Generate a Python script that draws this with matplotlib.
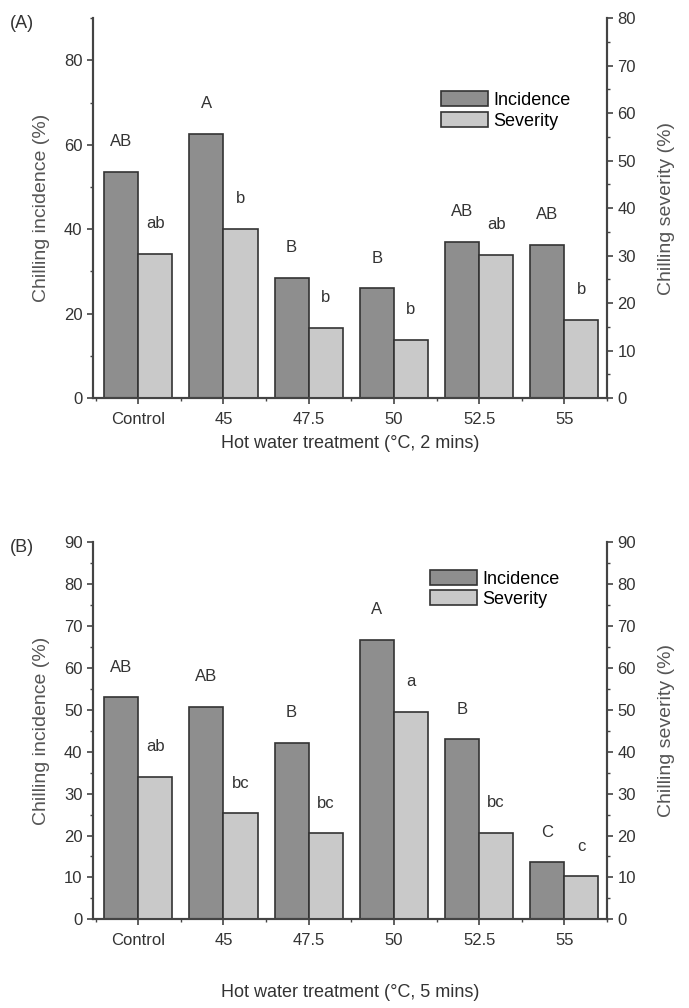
import numpy as np
import matplotlib.pyplot as plt
from matplotlib.ticker import MultipleLocator

plt.rcParams['font.family'] = ['Liberation Sans', 'DejaVu Sans']

treatments = ['Control', '45', '47.5', '50', '52.5', '55']

# panel A: 2 min dip
inc_a = [53.5, 62.5, 28.5, 26.0, 37.0, 36.3]
sev_a = [30.3, 35.7, 14.8, 12.3, 30.2, 16.5]
inc_a_letters = ['AB', 'A', 'B', 'B', 'AB', 'AB']
sev_a_letters = ['ab', 'b', 'b', 'b', 'ab', 'b']

# panel B: 5 min dip
inc_b = [53.0, 50.7, 42.2, 66.7, 43.0, 13.6]
sev_b = [34.0, 25.3, 20.5, 49.6, 20.6, 10.3]
inc_b_letters = ['AB', 'AB', 'B', 'A', 'B', 'C']
sev_b_letters = ['ab', 'bc', 'bc', 'a', 'bc', 'c']

c_inc = '#8e8e8e'
c_sev = '#c9c9c9'


def panel(rect, inc, sev, inc_lab, sev_lab, lmax, lmaj, rmax, rmaj, tag, xlabel,
          leg_anchor, xpad):
    ax = fig.add_axes(rect)
    ax2 = ax.twinx()
    x = np.arange(len(treatments))
    w = 0.4
    b1 = ax.bar(x - w / 2, inc, w, color=c_inc, edgecolor='#333333', linewidth=1.2,
                label='Incidence')
    b2 = ax2.bar(x + w / 2, sev, w, color=c_sev, edgecolor='#333333', linewidth=1.2,
                 label='Severity')
    ax.set_ylim(0, lmax)
    ax2.set_ylim(0, rmax)
    ax.set_xlim(-0.53, 5.5)
    for xi, v, t in zip(x, inc, inc_lab):
        ax.text(xi - w / 2, v + lmax * 0.06, t, ha='center', va='bottom', fontsize=12,
                color='#333333')
    for xi, v, t in zip(x, sev, sev_lab):
        ax2.text(xi + w / 2, v + rmax * 0.06, t, ha='center', va='bottom', fontsize=12,
                 color='#333333')

    ax.set_xticks(x)
    ax.set_xticklabels(treatments)
    ax.xaxis.set_minor_locator(MultipleLocator(0.5))
    ax.yaxis.set_major_locator(MultipleLocator(lmaj))
    ax.yaxis.set_minor_locator(MultipleLocator(lmaj / 2))
    ax2.yaxis.set_major_locator(MultipleLocator(rmaj))
    ax2.yaxis.set_minor_locator(MultipleLocator(rmaj / 2))
    for a in (ax, ax2):
        a.spines['top'].set_visible(False)
        for s in a.spines.values():
            s.set_linewidth(1.5)
            s.set_color('#444444')
        a.tick_params(which='major', length=4, width=1.2, labelsize=12, colors='#444444',
                      labelcolor='#333333')
        a.tick_params(which='minor', length=2.5, width=1, colors='#444444')
    ax.tick_params(axis='x', pad=6)
    ax.set_ylabel('Chilling incidence (%)', fontsize=14, color='#555555', labelpad=10)
    ax2.set_ylabel('Chilling severity (%)', fontsize=14, color='#555555', labelpad=16,
                   rotation=90)
    ax.set_xlabel(xlabel, fontsize=13, color='#333333', labelpad=xpad)
    ax2.legend([b1, b2], ['Incidence', 'Severity'], loc='upper right',
               bbox_to_anchor=leg_anchor, frameon=False, fontsize=13,
               handlelength=2.6, handleheight=0.9, labelspacing=0.15, handletextpad=0.3)
    fig.text(0.015, rect[1] + rect[3] - 0.005, tag, fontsize=13, va='center', color='#333333')
    return ax


fig = plt.figure(figsize=(6.89, 10.08), dpi=100)
panel([0.135, 0.605, 0.746, 0.377], inc_a, sev_a, inc_a_letters, sev_a_letters,
      90, 20, 80, 10, '(A)', 'Hot water treatment (°C, 2 mins)', (0.96, 0.85), 6)
panel([0.135, 0.088, 0.746, 0.374], inc_b, sev_b, inc_b_letters, sev_b_letters,
      90, 10, 90, 10, '(B)', 'Hot water treatment (°C, 5 mins)', (0.94, 0.97), 26)

plt.savefig('out.png', dpi=100)
